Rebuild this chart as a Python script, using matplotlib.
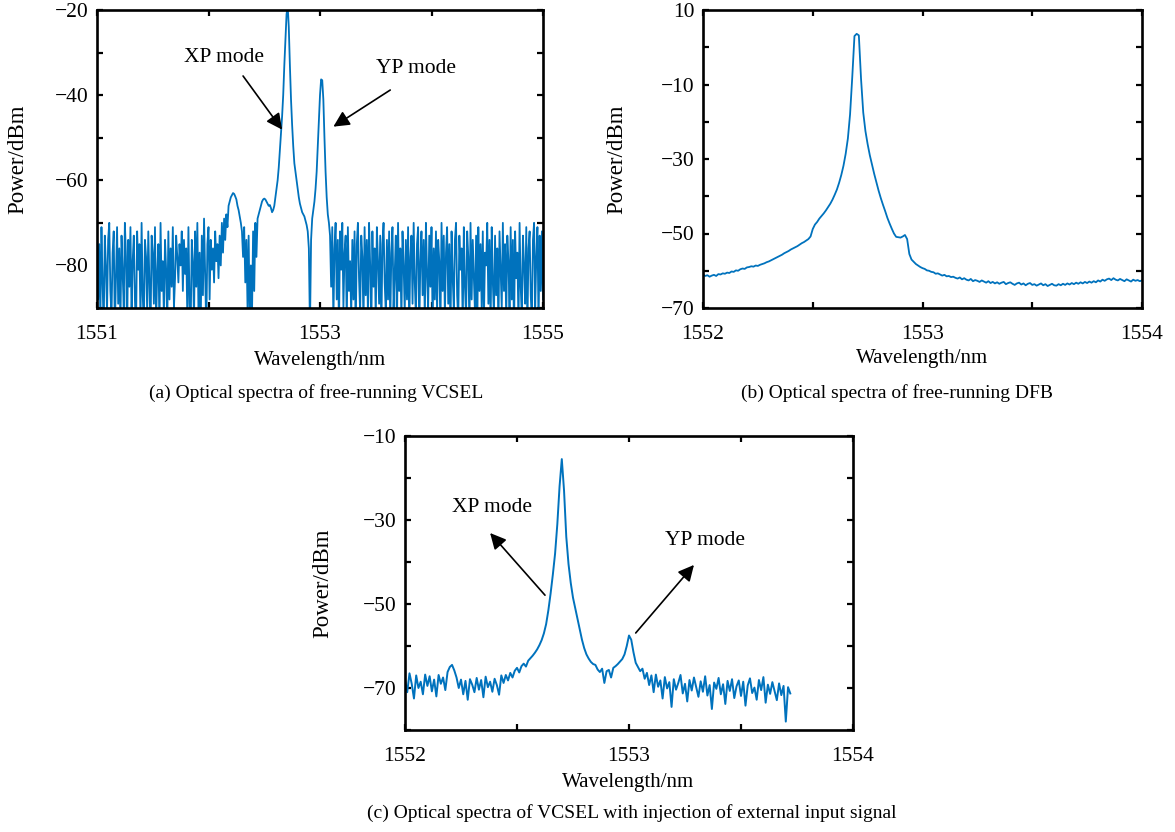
import numpy as np
import matplotlib.pyplot as plt
from matplotlib.ticker import FixedLocator, FixedFormatter

plt.rcParams['font.family'] = ['Liberation Serif', 'DejaVu Serif']
plt.rcParams['axes.unicode_minus'] = True

BLUE = '#0072BD'
W, H = 1175, 832

# ---- (a) free-running VCSEL, 1551..1555 nm, 0.01 nm step
wl_a = np.linspace(1551.0, 1555.0, 401)
pw_a = [
    -72, -88, -75, -93, -71, -84, -95, -73, -80, -91,
    -74, -70, -86, -92, -77, -72, -95, -83, -71, -89,
    -76, -94, -73, -82, -90, -70, -78, -96, -74, -85,
    -71, -92, -79, -73, -88, -95, -72, -81, -75, -93,
    -70, -87, -94, -74, -78, -91, -72, -84, -96, -73,
    -77, -89, -71, -93, -82, -75, -95, -70, -86, -79,
    -92, -74, -81, -94, -72, -88, -76, -85, -71, -90,
    -83, -73, -78, -84, -75, -80, -72, -86, -74, -82,
    -76, -92, -71, -89, -95, -74, -79, -93, -72, -85,
    -70, -91, -77, -94, -73, -87, -69, -82, -95, -75,
    -71, -88, -74, -81, -76, -84, -72, -79, -75, -83,
    -73, -80, -70, -77, -69, -74, -68, -71, -66, -65,
    -64, -63.5, -63, -63.2, -63.8, -64.5, -66, -67, -68.5, -70,
    -72, -78, -71, -84, -74, -90, -73, -94, -80, -92,
    -72, -86, -70, -78, -69, -68, -67, -66, -65, -64.5,
    -64.3, -64.5, -65, -65.5, -66, -65.8, -66.5, -67.5, -67, -66,
    -64, -62, -60, -57, -53, -49, -45, -40, -33, -27,
    -21, -19, -24, -33, -41, -47, -52, -56, -58, -60,
    -62, -64, -65.5, -66.5, -67.5, -68, -68.5, -69.5, -70.5, -72,
    -76, -95, -74, -69, -67, -65, -62, -58, -52, -46,
    -40, -36.3, -36.5, -41, -50, -58, -64, -68, -70, -73,
    -85, -71, -93, -76, -70, -88, -74, -95, -72, -81,
    -70, -90, -77, -73, -94, -71, -86, -79, -92, -74,
    -88, -72, -96, -75, -70, -83, -91, -73, -78, -94,
    -71, -87, -74, -92, -70, -80, -95, -72, -85, -76,
    -93, -71, -79, -89, -73, -96, -75, -70, -84, -91,
    -74, -88, -72, -94, -77, -71, -90, -82, -73, -95,
    -70, -86, -76, -93, -72, -80, -91, -74, -88, -71,
    -95, -78, -73, -89, -70, -84, -92, -75, -71, -96,
    -79, -72, -87, -74, -93, -70, -82, -90, -73, -85,
    -71, -94, -76, -88, -72, -91, -74, -79, -95, -70,
    -86, -73, -92, -77, -71, -89, -75, -96, -72, -83,
    -90, -74, -70, -87, -93, -73, -81, -76, -94, -71,
    -85, -92, -72, -78, -95, -70, -88, -74, -83, -91,
    -73, -96, -71, -86, -75, -90, -72, -93, -77, -80,
    -70, -89, -74, -94, -71, -84, -92, -73, -87, -76,
    -95, -72, -81, -90, -70, -86, -75, -93, -73, -79,
    -91, -71, -88, -74, -96, -72, -83, -77, -94, -70,
    -85, -92, -73, -80, -89, -71, -95, -76, -72, -87,
    -93, -74, -70, -90, -78, -71, -94, -73, -86, -72, -88,
]

# ---- (b) free-running DFB, 1552..1554 nm, 0.01 nm step
wl_b = np.linspace(1552.0, 1554.0, 201)
pw_b = [
    -61.0, -61.4, -61.2, -61.6, -61.3, -61.1, -61.4, -60.9, -61.0, -60.7,
    -60.8, -60.5, -60.6, -60.2, -60.3, -59.9, -60.0, -59.6, -59.4, -59.5,
    -59.1, -59.0, -58.8, -58.9, -58.6, -58.7, -58.4, -58.2, -58.0, -57.7,
    -57.5, -57.2, -56.9, -56.6, -56.3, -56.0, -55.7, -55.3, -55.0, -54.7,
    -54.3, -54.0, -53.7, -53.4, -53.0, -52.6, -52.3, -51.9, -51.5, -50.8,
    -48.8, -47.6, -46.9, -46.0, -45.3, -44.6, -43.8, -42.9, -42.0, -40.9,
    -39.6, -38.2, -36.4, -34.3, -31.8, -28.6, -24.5, -18.0, -8.0, 3.0,
    3.6, 3.2, -8.5, -17.5, -22.5, -26.0, -29.0, -31.5, -34.0, -36.3,
    -38.5, -40.5, -42.3, -44.0, -45.8, -47.3, -48.7, -50.0, -50.9, -51.0,
    -51.1, -50.8, -50.4, -51.5, -55.5, -57.0, -57.6, -58.2, -58.6, -59.0,
    -59.3, -59.5, -59.9, -60.0, -60.3, -60.4, -60.8, -60.7, -61.0, -61.3,
    -61.1, -61.5, -61.4, -61.7, -61.6, -61.9, -62.1, -61.8, -62.3, -62.0,
    -62.4, -62.6, -62.2, -62.8, -62.5, -62.7, -63.0, -62.6, -62.9, -63.2,
    -62.8, -63.3, -63.0, -63.4, -63.1, -63.5, -63.2, -63.0, -63.6, -63.3,
    -63.1, -63.5, -63.8, -63.4, -63.2, -63.7, -63.4, -63.9, -63.5, -63.3,
    -63.8, -63.6, -64.0, -63.7, -63.4, -63.9, -63.6, -64.1, -63.8, -63.5,
    -63.9, -64.0, -63.6, -63.9, -63.5, -63.8, -63.4, -63.7, -63.3, -63.6,
    -63.2, -63.5, -63.1, -63.4, -63.0, -63.3, -62.9, -63.2, -62.8, -63.1,
    -62.6, -62.9, -62.4, -62.7, -62.3, -62.1, -62.5, -62.0, -62.4, -62.6,
    -62.2, -62.5, -62.8, -62.3, -62.6, -62.9, -62.4, -62.7, -62.5, -62.8,
    -62.6,
]

# ---- (c) VCSEL with external injection, 1552..1553.72 nm, 0.01 nm step
wl_c = np.linspace(1552.0, 1553.72, 173)
pw_c = [
    -68, -71, -66.5, -69, -72.5, -67, -70, -68.5, -71.5, -66.8,
    -69.5, -67.2, -70.8, -68, -72, -66.9, -69, -67.5, -70.5, -66.2,
    -65, -64.5, -65.8, -67.5, -70, -68, -71.5, -68.3, -72.8, -67.9,
    -69.2, -71, -67.6, -70.4, -68.1, -72.2, -67.3, -69.8, -68.5, -70.9,
    -67.8, -69.3, -71.6, -67, -68.8, -66.9, -68.2, -66.4, -67.5, -65.9,
    -65.2, -66.3, -64.8, -64.2, -64.9, -63.5, -62.9, -62.3, -61.6, -60.8,
    -59.8, -58.6, -57, -54.8, -51.5, -47.5, -43, -38, -31, -22,
    -15.5, -23, -34, -40.5, -45, -48.5, -51, -53.5, -56, -58.5,
    -60.5, -62, -63, -63.8, -64.3, -64.5, -65.6, -66.2, -65.4, -68.8,
    -66, -65.7, -67.5, -65.2, -64.8, -64.3, -63.7, -63.1, -62, -60,
    -57.5, -58.5, -61.5, -64, -65, -66, -65.4, -67.8, -66.4, -69.3,
    -67, -71, -66.8, -69.7, -68.2, -72.5, -67.4, -70.1, -68.6, -74.5,
    -67.9, -70.4, -68.8, -66.9, -71.3, -69, -73.2, -68.1, -70.6, -67.5,
    -69.8, -72.1, -68.4, -70.9, -67.2, -71.8, -69.3, -75, -68.7, -70.2,
    -67.6, -71.5, -69.1, -73.8, -68.3, -70.7, -67.9, -72.4, -69.6, -68.2,
    -71.9, -68.5, -74.2, -69.4, -67.7, -71.2, -69.9, -72.8, -68.1, -70.5,
    -67.4, -73.5, -69.2, -71.4, -68.6, -70.8, -72.9, -68.9, -71.7, -69.5,
    -78, -69.8, -71.3,
]


def fmt(v):
    s = ('%g' % v)
    return s.replace('-', '\u2212')


def setup(ax, xlim, xticks, xlab, ylim, yticks, ylab):
    ax.set_xlim(xlim)
    ax.set_ylim(ylim)
    ax.xaxis.set_major_locator(FixedLocator(xticks))
    ax.xaxis.set_major_formatter(FixedFormatter([fmt(t) if t in xlab else '' for t in xticks]))
    ax.yaxis.set_major_locator(FixedLocator(yticks))
    ax.yaxis.set_major_formatter(FixedFormatter([fmt(t) if t in ylab else '' for t in yticks]))
    ax.tick_params(direction='in', length=4, width=1.6, top=True, right=True,
                   labelsize=15.5)
    ax.tick_params(axis='x', pad=12)
    ax.tick_params(axis='y', pad=6)
    for sp in ax.spines.values():
        sp.set_linewidth(1.9)


fig = plt.figure(figsize=(W / 100, H / 100), dpi=100)

def px_axes(l, r, t, b):
    return fig.add_axes([l / W, 1 - b / H, (r - l) / W, (b - t) / H])

ax_a = px_axes(97, 543, 10, 308)
ax_b = px_axes(703, 1142, 10, 308)
ax_c = px_axes(405, 853, 436, 730)

ax_a.plot(wl_a, pw_a, color=BLUE, lw=1.3)
setup(ax_a, (1551, 1555), [1551, 1552, 1553, 1554, 1555], [1551, 1553, 1555],
      (-90, -20), list(range(-90, -19, 10)), [-20, -40, -60, -80])

ax_b.plot(wl_b, pw_b, color=BLUE, lw=1.3)
setup(ax_b, (1552, 1554), [1552, 1552.5, 1553, 1553.5, 1554], [1552, 1553, 1554],
      (-70, 10), list(range(-70, 11, 10)), [10, -10, -30, -50, -70])

ax_c.plot(wl_c, pw_c, color=BLUE, lw=1.4)
setup(ax_c, (1552, 1554), [1552, 1552.5, 1553, 1553.5, 1554], [1552, 1553, 1554],
      (-80, -10), list(range(-80, -9, 10)), [-10, -30, -50, -70])

arrow = dict(arrowstyle='-|>', mutation_scale=24, lw=1.2, color='black',
             shrinkA=0, shrinkB=0)

ax_a.text(1552.14, -31.2, 'XP mode', fontsize=15.5, ha='center', va='center')
ax_a.annotate('', xy=(1552.66, -48.1), xytext=(1552.31, -35.5), arrowprops=arrow)
ax_a.text(1553.86, -33.8, 'YP mode', fontsize=15.5, ha='center', va='center')
ax_a.annotate('', xy=(1553.12, -47.4), xytext=(1553.63, -38.8), arrowprops=arrow)

ax_c.text(1552.39, -27.1, 'XP mode', fontsize=15.5, ha='center', va='center')
ax_c.annotate('', xy=(1552.38, -33.1), xytext=(1552.625, -47.9), arrowprops=arrow)
ax_c.text(1553.34, -34.8, 'YP mode', fontsize=15.5, ha='center', va='center')
ax_c.annotate('', xy=(1553.29, -40.7), xytext=(1553.03, -56.9), arrowprops=arrow)


def ftext(x, y, s, size=14, **kw):
    fig.text(x / W, 1 - y / H, s, ha='center', va='center', fontsize=size, **kw)

ftext(320, 360, 'Wavelength/nm', 15)
ftext(316, 393, '(a) Optical spectra of free-running VCSEL')
ftext(18, 159, 'Power/dBm', 16.5, rotation=90)

ftext(922, 358, 'Wavelength/nm', 15)
ftext(897, 393, '(b) Optical spectra of free-running DFB')
ftext(617, 159, 'Power/dBm', 16.5, rotation=90)

ftext(628, 783, 'Wavelength/nm', 15)
ftext(632, 813, '(c) Optical spectra of VCSEL with injection of external input signal')
ftext(323, 583, 'Power/dBm', 16.5, rotation=90)

fig.savefig('out.png', dpi=100)
